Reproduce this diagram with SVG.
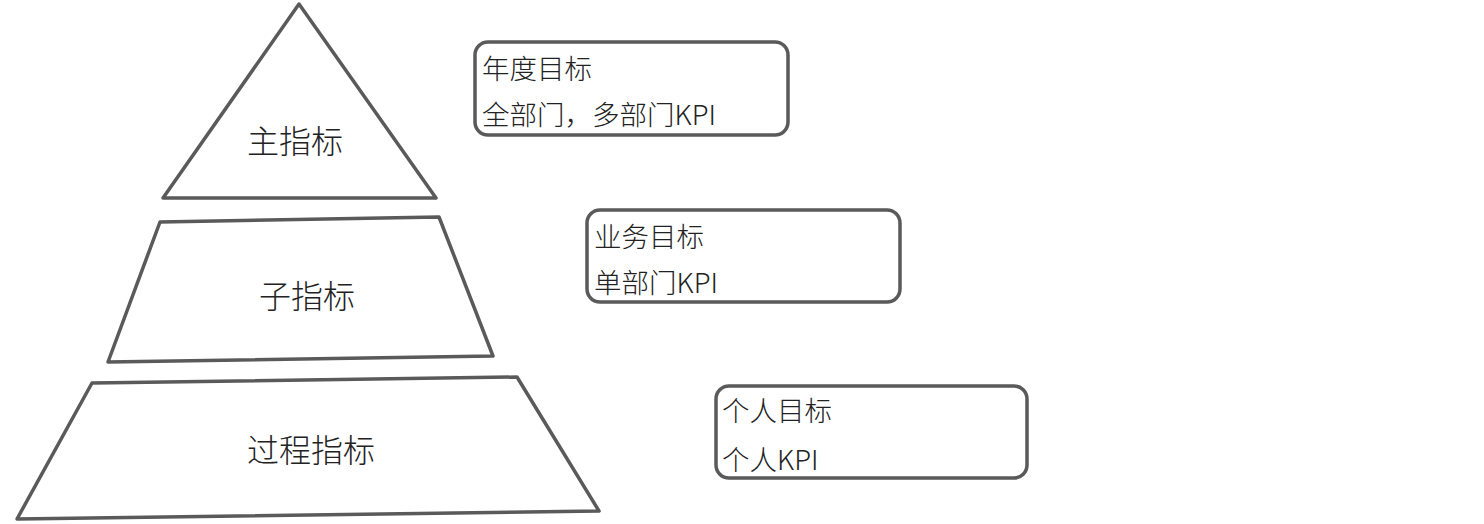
<svg xmlns="http://www.w3.org/2000/svg" width="1484" height="524" viewBox="0 0 1484 524">
<style>
.shape{fill:#fff;stroke:#5a5a5a;stroke-width:3.5;stroke-linejoin:round}
.lbl{font-family:"Noto Sans CJK SC","Noto Sans",sans-serif;font-size:32px;font-weight:300;fill:#222;text-anchor:middle;dominant-baseline:central}
.box{fill:#fff;stroke:#5a5a5a;stroke-width:3.5}
.btxt{font-family:"Noto Sans CJK SC","Noto Sans",sans-serif;font-size:27.5px;font-weight:300;fill:#222;dominant-baseline:central}
</style>
<rect width="1484" height="524" fill="#fff"/>
<g id="main">
<polygon class="shape" points="299,4 436,198 163,198"/>
<text class="lbl" x="295" y="139">主指标</text>
</g>
<g id="sub">
<polygon class="shape" points="160,222 439,217 493,356 108,362"/>
<text class="lbl" x="307" y="294">子指标</text>
</g>
<g id="process">
<polygon class="shape" points="92,383 517,377 599,511 17,519"/>
<text class="lbl" x="311" y="448">过程指标</text>
</g>
<g id="box1">
<rect class="box" x="475" y="42" width="313" height="93" rx="13"/>
<text class="btxt" x="482" y="67">年度目标</text>
<text class="btxt" x="482" y="113">全部门，多部门KPI</text>
</g>
<g id="box2">
<rect class="box" x="587" y="210" width="313" height="92" rx="13"/>
<text class="btxt" x="594" y="235">业务目标</text>
<text class="btxt" x="594" y="281">单部门KPI</text>
</g>
<g id="box3">
<rect class="box" x="716" y="386" width="311" height="92" rx="13"/>
<text class="btxt" x="722" y="409">个人目标</text>
<text class="btxt" x="722" y="458">个人KPI</text>
</g>
<g id="connectors"></g>
</svg>
